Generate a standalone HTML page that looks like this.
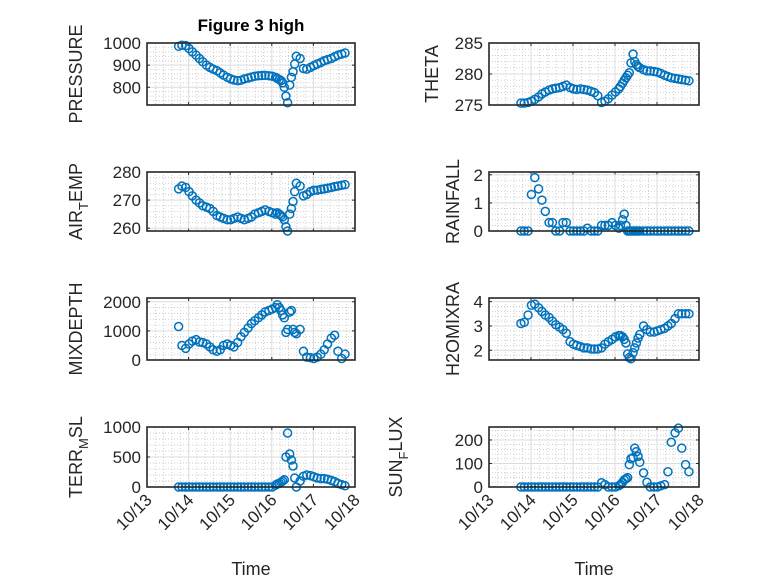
<!DOCTYPE html>
<html><head><meta charset="utf-8"><style>
html,body{margin:0;padding:0;background:#fff;}
svg{display:block;font-family:"Liberation Sans",sans-serif;}
</style></head><body>
<svg id="fig" width="778" height="583" viewBox="0 0 778 583" xmlns="http://www.w3.org/2000/svg">
<rect width="778" height="583" fill="#fff"/>
<text x="251" y="31" text-anchor="middle" font-size="17" font-weight="bold" fill="#000">Figure 3 high</text>
</svg>
<script>
// shared time axis (day of October)
const times = [13.76,13.84,13.93,14.01,14.09,14.18,14.26,14.34,14.43,14.51,14.59,14.68,14.76,14.84,14.93,15.01,15.09,15.18,15.26,15.34,15.43,15.51,15.59,15.68,15.76,15.84,15.93,16.01,16.09,
16.13,16.18,16.22,16.26,16.30,16.34,16.38,16.43,16.47,16.51,16.55,16.59,
16.68,16.76,16.84,16.93,17.01,17.09,17.18,17.26,17.34,17.43,17.51,17.59,17.68,17.76];
const xTickValues = [13,14,15,16,17,18];
const xTickLabels = ["10/13","10/14","10/15","10/16","10/17","10/18"];

const pressure = [985,990,988,975,960,945,930,915,900,890,882,875,865,855,845,838,833,830,832,838,842,846,850,852,853,854,852,850,845,
840,835,830,820,800,760,730,810,845,870,905,940,
930,885,882,890,898,905,912,920,925,930,938,945,950,955];
const airTemp = [274,275,274.5,273,271.5,270,269,268,267.5,267,266,264.5,264,263.5,263,263,263.5,264,263.5,263,263.5,264,265,265.5,266,266.5,266,265.5,265,
265.5,265,264.5,264,263,260.5,259,265,267,269.5,273,276,
275,271.5,272,273,273.5,273.5,273.8,274,274.2,274.5,274.8,275,275.3,275.5];
const mixDepth = [1150,500,400,550,650,700,620,600,550,450,350,300,350,500,550,500,450,600,800,950,1100,1250,1350,1450,1550,1650,1700,1750,1800,
1900,1800,1700,1550,1450,950,1050,1650,1700,1050,950,900,
1050,300,100,80,50,100,200,350,550,750,850,300,50,200];
const terrMsl = [0,0,0,0,0,0,0,0,0,0,0,0,0,0,0,0,0,0,0,0,0,0,0,0,0,0,0,0,30,
50,60,80,100,120,500,900,550,450,350,150,0,
100,180,200,190,170,150,140,140,130,110,90,60,40,20];
const theta = [275.3,275.3,275.4,275.6,275.9,276.3,276.8,277.1,277.4,277.6,277.7,277.8,278.0,278.2,277.8,277.6,277.5,277.6,277.5,277.4,277.2,277.0,276.5,275.4,275.6,276.0,276.6,277.1,277.6,
278.0,278.5,279.0,279.4,279.8,280.2,281.8,283.2,282.0,281.5,281.2,281.0,
280.7,280.5,280.5,280.4,280.3,280.1,279.8,279.6,279.4,279.3,279.2,279.1,279.0,278.9];
const rainfall = [0,0,0,1.3,1.9,1.5,1.1,0.7,0.3,0.3,0,0,0.3,0.3,0,0,0,0,0,0.1,0,0,0,0.2,0.2,0.2,0.3,0.2,0.1,
0.2,0.4,0.6,0.2,0,0,0,0,0,0,0,0,
0,0,0,0,0,0,0,0,0,0,0,0,0,0];
const h2oMix = [3.1,3.15,3.45,3.85,3.9,3.75,3.6,3.45,3.35,3.2,3.05,2.95,2.85,2.7,2.35,2.25,2.2,2.15,2.1,2.1,2.05,2.05,2.05,2.1,2.25,2.35,2.45,2.55,2.6,
2.6,2.55,2.45,2.3,1.85,1.7,1.65,1.9,2.1,2.3,2.5,2.65,
3.0,2.85,2.75,2.75,2.8,2.85,2.9,3.0,3.1,3.3,3.5,3.5,3.5,3.5];
const sunFlux = [0,0,0,0,0,0,0,0,0,0,0,0,0,0,0,0,0,0,0,0,0,0,0,18,10,0,0,0,5,
10,20,30,35,40,95,120,125,165,150,130,105,
60,20,0,0,0,5,10,65,190,230,250,165,95,65];

const panels = [
 {name:"pressure",label:["PRESSURE"],lx:76,x0:147,x1:355,y0:43,y1:105,ymin:720,ymax:1000,ticks:[800,900,1000],step:100,data:pressure,xt:false},
 {name:"air-temp",label:["AIR","T","EMP"],lx:76,x0:147,x1:355,y0:172,y1:231,ymin:259,ymax:280,ticks:[260,270,280],step:10,data:airTemp,xt:false},
 {name:"mixdepth",label:["MIXDEPTH"],lx:76,x0:147,x1:355,y0:298,y1:360,ymin:0,ymax:2130,ticks:[0,1000,2000],step:1000,data:mixDepth,xt:false},
 {name:"terr-msl",label:["TERR","M","SL"],lx:76,x0:147,x1:355,y0:427,y1:487,ymin:0,ymax:1000,ticks:[0,500,1000],step:500,data:terrMsl,xt:true},
 {name:"theta",label:["THETA"],lx:432,x0:489,x1:699,y0:43,y1:105,ymin:275,ymax:285,ticks:[275,280,285],step:5,data:theta,xt:false},
 {name:"rainfall",label:["RAINFALL"],lx:453,x0:489,x1:699,y0:172,y1:231,ymin:0,ymax:2.1,ticks:[0,1,2],step:1,data:rainfall,xt:false},
 {name:"h2o-mix",label:["H2OMIXRA"],lx:453,x0:489,x1:699,y0:298,y1:360,ymin:1.6,ymax:4.15,ticks:[2,3,4],step:1,data:h2oMix,xt:false},
 {name:"sun-flux",label:["SUN","F","LUX"],lx:396,x0:489,x1:699,y0:427,y1:487,ymin:0,ymax:255,ticks:[0,100,200],step:100,data:sunFlux,xt:true}
];
const NS="http://www.w3.org/2000/svg";
const svg=document.getElementById('fig');
function mk(tag,attrs,parent){const e=document.createElementNS(NS,tag);for(const k in attrs)e.setAttribute(k,attrs[k]);(parent||svg).appendChild(e);return e;}

panels.forEach(p=>{
 const g=mk('g',{});
 
 
 const xs=v=>p.x0+(v-13)/5*(p.x1-p.x0);
 const ys=v=>p.y1-(v-p.ymin)/(p.ymax-p.ymin)*(p.y1-p.y0);
 for(let d=13;d<18;d++){for(let k=1;k<5;k++){const x=xs(d+k/5);
  const l=mk('line',{x1:x,x2:x,y1:p.y0,y2:p.y1,stroke:'#bdbdbd','stroke-width':0.7,'stroke-dasharray':'1,2'},g);
  
  }}
 const firstMajor=Math.floor(p.ymin/p.step)*p.step;
 for(let m=firstMajor;m<=p.ymax;m+=p.step){for(let k=1;k<5;k++){const v=m+k*p.step/5;if(v<=p.ymin||v>=p.ymax)continue;const y=ys(v);
  const l=mk('line',{x1:p.x0,x2:p.x1,y1:y,y2:y,stroke:'#bdbdbd','stroke-width':0.7,'stroke-dasharray':'1,2'},g);
  
  }}
 xTickValues.forEach(v=>{const x=xs(v);
  const l=mk('line',{x1:x,x2:x,y1:p.y0,y2:p.y1,stroke:'#dcdcdc','stroke-width':1},g);
  
  
  mk('line',{x1:x,x2:x,y1:p.y1,y2:p.y1-3,stroke:'#262626','stroke-width':1},g);
  mk('line',{x1:x,x2:x,y1:p.y0,y2:p.y0+3,stroke:'#262626','stroke-width':1},g);});
 p.ticks.forEach(v=>{const y=ys(v);
  const l=mk('line',{x1:p.x0,x2:p.x1,y1:y,y2:y,stroke:'#dcdcdc','stroke-width':1},g);
  
  
  mk('line',{x1:p.x0,x2:p.x0+3,y1:y,y2:y,stroke:'#262626','stroke-width':1},g);
  mk('line',{x1:p.x1,x2:p.x1-3,y1:y,y2:y,stroke:'#262626','stroke-width':1},g);
  const t=mk('text',{x:p.x0-6,y:y+6,'text-anchor':'end','font-size':17,fill:'#262626'},g);
  t.textContent=String(v);
  
  });
 p.data.forEach((v,i)=>{
  const c=mk('circle',{cx:xs(times[i]),cy:ys(v),r:4,fill:'none',stroke:'#0072BD','stroke-width':1.5},g);
  
  });
 const b=mk('rect',{x:p.x0,y:p.y0,width:p.x1-p.x0,height:p.y1-p.y0,fill:'none',stroke:'#262626','stroke-width':1.6},g);
 
 
 const cy=(p.y0+p.y1)/2;
 const yl=mk('text',{x:0,y:0,'text-anchor':'middle','font-size':18,fill:'#262626',transform:`translate(${p.lx+6},${cy}) rotate(-90)`},g);
 
 
 if(p.label.length===1){yl.textContent=p.label[0];}
 else{const a=mk('tspan',{},yl);a.textContent=p.label[0];
  const s=mk('tspan',{'font-size':13,dy:6},yl);s.textContent=p.label[1];
  const c2=mk('tspan',{dy:-6},yl);c2.textContent=p.label[2];}
 if(p.xt){
  xTickValues.forEach((v,i)=>{const x=xs(v);
   const t=mk('text',{x:0,y:0,'text-anchor':'end','font-size':17,fill:'#262626',transform:`translate(${x+6},${p.y1+14}) rotate(-45)`},g);
   t.textContent=xTickLabels[i];
   
   });
  const xl=mk('text',{x:(p.x0+p.x1)/2,y:575,'text-anchor':'middle','font-size':18,fill:'#262626'},g);
  xl.textContent='Time';
  
  
 }
});
</script>
</body></html>
